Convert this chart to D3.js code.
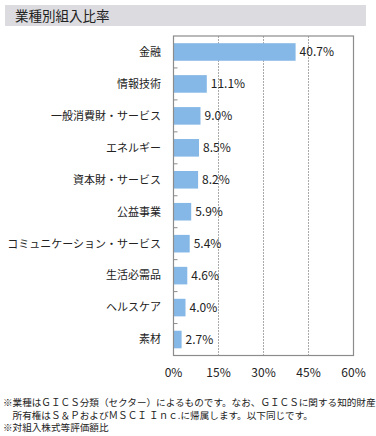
<!DOCTYPE html>
<html><head><meta charset="utf-8">
<script src="https://cdn.jsdelivr.net/npm/d3@7"></script>
<style>
body{margin:0;background:#fff;}
svg{display:block;font-family:"Noto Sans CJK JP","Noto Sans",sans-serif;}
</style></head>
<body><svg id="c" width="376" height="436"></svg>
<script>
const categories = ["金融","情報技術","一般消費財・サービス","エネルギー","資本財・サービス","公益事業","コミュニケーション・サービス","生活必需品","ヘルスケア","素材"];
const values = [40.7,11.1,9.0,8.5,8.2,5.9,5.4,4.6,4.0,2.7];
const xTicks = [0,15,30,45,60];
const title = "業種別組入比率";
const notes = ["※業種はＧＩＣＳ分類（セクター）によるものです。なお、ＧＩＣＳに関する知的財産",
               "　所有権はＳ＆ＰおよびＭＳＣＩ Ｉｎｃ.に帰属します。以下同じです。",
               "※対組入株式等評価額比"];

const svg = d3.select("#c");
svg.append("rect").attr("x",5).attr("y",5).attr("width",361).attr("height",21).attr("fill","#dcdce0");
svg.append("text").attr("x",15).attr("y",21).attr("font-size",13.5).attr("fill","#222").text(title);

const L=173.5,R=353.5,T=36,B=355.5;
const x = d3.scaleLinear().domain([0,60]).range([L,R]);
const y = d3.scaleBand().domain(categories).range([T,B]).paddingInner(0.45).paddingOuter(0.225);

// gridlines
svg.append("g").selectAll("line").data(xTicks.slice(1,-1)).join("line")
  .attr("x1",d=>x(d)).attr("x2",d=>x(d)).attr("y1",T).attr("y2",B)
  .attr("stroke","#aaa").attr("stroke-width",1).attr("stroke-dasharray","2,1");

// bars
svg.append("g").selectAll("rect").data(values).join("rect")
  .attr("x",x(0)).attr("y",(d,i)=>y(categories[i]))
  .attr("width",d=>x(d)-x(0)).attr("height",y.bandwidth())
  .attr("fill","#85b8e6");

// frame
svg.append("rect").attr("x",L).attr("y",T).attr("width",R-L).attr("height",B-T)
  .attr("fill","none").attr("stroke","#8c8c8c").attr("stroke-width",1.2);

// inner ticks at band boundaries
svg.append("g").selectAll("line").data(d3.range(1,categories.length)).join("line")
  .attr("x1",L).attr("x2",L+4)
  .attr("y1",i=>T+i*(B-T)/categories.length).attr("y2",i=>T+i*(B-T)/categories.length)
  .attr("stroke","#8c8c8c");

// category labels
svg.append("g").selectAll("text").data(categories).join("text")
  .attr("x",161).attr("y",d=>y(d)+y.bandwidth()/2).attr("dy","0.35em")
  .attr("text-anchor","end").attr("font-size",11).attr("fill","#222").text(d=>d);

// value labels
svg.append("g").selectAll("text").data(values).join("text")
  .attr("x",d=>x(d)+4).attr("y",(d,i)=>y(categories[i])+y.bandwidth()/2).attr("dy","0.35em")
  .attr("font-size",12).attr("fill","#222").text(d=>d.toFixed(1)+"%");

// x axis labels
svg.append("g").selectAll("text").data(xTicks).join("text")
  .attr("x",d=>x(d)).attr("y",373).attr("dy","0.35em").attr("text-anchor","middle")
  .attr("font-size",12).attr("fill","#222").text(d=>d+"%");

// notes
svg.append("g").selectAll("text").data(notes).join("text")
  .attr("x",3).attr("y",(d,i)=>403+i*12.5).attr("dy","0.35em")
  .attr("font-size",9.6).attr("fill","#222").text(d=>d);
</script></body></html>
